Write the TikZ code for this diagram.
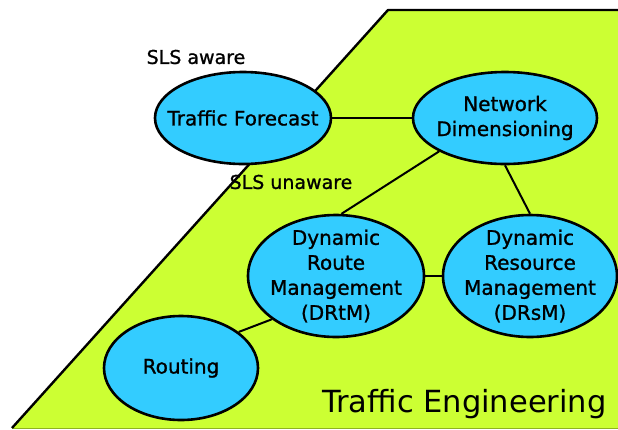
\documentclass[tikz,border=0pt]{standalone}
\usepackage{fontspec}
\setmainfont{DejaVu Sans}
\newfontfamily\heavyfont[FakeBold=1.1]{DejaVu Sans}
\usetikzlibrary{shapes.geometric}
\definecolor{tegreen}{HTML}{CCFF33}
\definecolor{teedge}{HTML}{8FB31F}
\definecolor{nodeblue}{HTML}{33CCFF}
\tikzset{
  task/.style={ellipse, draw=black, line width=2.6pt, fill=nodeblue, inner sep=0pt},
  tasktext/.style={align=center, inner sep=0pt, font=\heavyfont\fontsize{20}{25}\selectfont},
  link/.style={draw=black, line width=2pt},
  layerlabel/.style={font=\heavyfont\fontsize{19}{22}\selectfont, inner sep=0pt}
}
\begin{document}
\begin{tikzpicture}[x=1pt,y=-1pt]
\useasboundingbox (0,0) rectangle (618,429);
% Traffic engineering plane
\fill[tegreen] (388,10) -- (620,10) -- (620,428) -- (12,428) -- cycle;
\draw[teedge, line width=1pt] (12,428.5) -- (620,428.5);
\draw[black, line width=2.4pt, line join=round] (12,428) -- (388,10) -- (620,10);
\node[anchor=base west, inner sep=0pt, font=\fontsize{30.5}{34}\selectfont] (te) at (322,412) {Traffic Engineering};
% Functional blocks (fixed-size ellipses, text set as centred labels)
\node[task, minimum width=176pt, minimum height=92pt,
  label={[tasktext]center:Traffic Forecast}] (tf) at (243,118) {};
\node[task, minimum width=184pt, minimum height=92pt,
  label={[tasktext]center:Network\\Dimensioning}] (nd) at (505,118) {};
\node[task, minimum width=176pt, minimum height=122pt,
  label={[tasktext]center:Dynamic\\Route\\Management\\(DRtM)}] (drtm) at (336,276) {};
\node[task, minimum width=174pt, minimum height=122pt,
  label={[tasktext]center:Dynamic\\Resource\\Management\\(DRsM)}] (drsm) at (530,276) {};
\node[task, minimum width=154pt, minimum height=104pt,
  label={[tasktext]center:Routing}] (rt) at (181,368) {};
% Relations
\draw[link] (tf) -- (nd);
\draw[link] (nd.south west) -- (drtm.85);
\draw[link] (nd.south) -- (drsm.north);
\draw[link] (drtm) -- (drsm);
\draw[link] (rt.32) -- (drtm.214);
% Awareness labels
\node[layerlabel] (aware) at (196,57) {SLS aware};
\node[layerlabel] (unaware) at (291,182) {SLS unaware};
\end{tikzpicture}
\end{document}
